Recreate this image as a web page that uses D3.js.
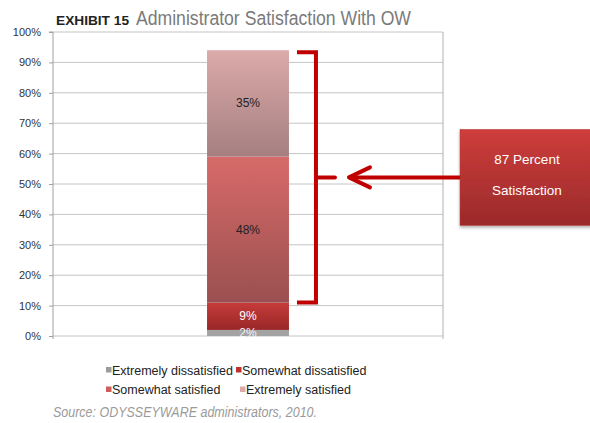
<!DOCTYPE html>
<html>
<head>
<meta charset="utf-8">
<script src="https://cdn.jsdelivr.net/npm/d3@7"></script>
<style>
  body { margin: 0; background: #fff; }
  svg { display: block; font-family: "Liberation Sans", Arial, sans-serif; }
</style>
</head>
<body>
<div class="canvas"></div>
<script>
// data
const categories = ['Administrators'];
const series = ['Extremely dissatisfied', 'Somewhat dissatisfied', 'Somewhat satisfied', 'Extremely satisfied'];
const values = [0.02, 0.09, 0.48, 0.35];
const yTicks = [0, 0.1, 0.2, 0.3, 0.4, 0.5, 0.6, 0.7, 0.8, 0.9, 1];
const satisfiedTotal = 87;

// colours: [top, bottom] of each segment gradient, legend swatch, label colour
const grads = [['#a3a3a3', '#a3a3a3'], ['#c53c3a', '#982727'], ['#d66b69', '#9b4f50'], ['#dcaaaa', '#a57f80']];
const swatch = ['#9c9c9c', '#c0302c', '#cf5e5d', '#dcaaaa'];
const labelColor = ['#f4f4f4', '#ffffff', '#222222', '#222222'];

const width = 590, height = 423;
const plot = { left: 53, right: 443, top: 32, bottom: 336 };

const svg = d3.select('.canvas').append('svg').attr('width', width).attr('height', height);

const defs = svg.append('defs');
grads.forEach((g, i) => {
  const lg = defs.append('linearGradient').attr('id', 'seg' + i).attr('x1', 0).attr('x2', 0).attr('y1', 0).attr('y2', 1);
  lg.append('stop').attr('offset', '0%').attr('stop-color', g[0]);
  lg.append('stop').attr('offset', '100%').attr('stop-color', g[1]);
});
const boxGrad = defs.append('linearGradient').attr('id', 'boxGrad').attr('x1', 0).attr('x2', 0).attr('y1', 0).attr('y2', 1);
boxGrad.append('stop').attr('offset', '0%').attr('stop-color', '#ce3d3b');
boxGrad.append('stop').attr('offset', '100%').attr('stop-color', '#9a2a2a');
const shadow = defs.append('filter').attr('id', 'shadow').attr('x', '-10%').attr('y', '-10%').attr('width', '130%').attr('height', '130%');
shadow.append('feDropShadow').attr('dx', 0).attr('dy', 2).attr('stdDeviation', 1.5).attr('flood-color', '#000').attr('flood-opacity', 0.3);

// scales
const x = d3.scaleBand().domain(categories).range([plot.left, plot.right]).paddingInner(0).paddingOuter(1.88);
const y = d3.scaleLinear().domain([0, 1]).range([plot.bottom, plot.top]);

// gridlines
svg.append('g')
  .selectAll('line')
  .data(yTicks)
  .join('line')
  .attr('x1', plot.left)
  .attr('x2', plot.right)
  .attr('y1', d => y(d))
  .attr('y2', d => y(d))
  .attr('stroke', '#c4c4c4')
  .attr('stroke-width', 1);

// right border of plot
svg.append('line')
  .attr('x1', plot.right).attr('x2', plot.right)
  .attr('y1', plot.top).attr('y2', plot.bottom + 3)
  .attr('stroke', '#b0b0b0');

// y axis
const yAxis = svg.append('g')
  .attr('transform', `translate(${plot.left},0)`)
  .call(d3.axisLeft(y).tickValues(yTicks).tickFormat(d3.format('.0%')).tickSize(4).tickPadding(8));
yAxis.select('.domain').attr('stroke', '#a0a0a0').attr('d', `M-4,${plot.top}H0V${plot.bottom + 3}`);
yAxis.selectAll('.tick line').attr('stroke', '#a0a0a0');
yAxis.selectAll('.tick text').attr('font-size', 11).attr('fill', '#333').attr('font-family', '"Liberation Sans", Arial, sans-serif');

// stacked bar
const stacked = [];
let acc = 0;
values.forEach((v, i) => { stacked.push({ i, y0: acc, y1: acc + v, v }); acc += v; });

const bar = svg.append('g');
bar.selectAll('rect')
  .data(stacked)
  .join('rect')
  .attr('x', x(categories[0]))
  .attr('width', x.bandwidth())
  .attr('y', d => y(d.y1))
  .attr('height', d => y(d.y0) - y(d.y1))
  .attr('fill', d => `url(#seg${d.i})`);

bar.selectAll('text')
  .data(stacked)
  .join('text')
  .attr('x', x(categories[0]) + x.bandwidth() / 2)
  .attr('y', d => (y(d.y0) + y(d.y1)) / 2 + 4)
  .attr('text-anchor', 'middle')
  .attr('font-size', 12)
  .attr('fill', d => labelColor[d.i])
  .text(d => Math.round(d.v * 100) + '%');

// bracket around satisfied segments
const red = '#c00000';
const barRight = x(categories[0]) + x.bandwidth();
const bTop = y(acc) + 2;
const bBot = y(values[0] + values[1]);
const bMid = (bTop + bBot) / 2;
const bx = barRight + 27;
svg.append('path')
  .attr('d', `M${barRight + 8},${bTop}H${bx}V${bBot}H${barRight + 8}`)
  .attr('fill', 'none').attr('stroke', red).attr('stroke-width', 4);
svg.append('line')
  .attr('x1', bx).attr('x2', bx + 19).attr('y1', bMid).attr('y2', bMid)
  .attr('stroke', red).attr('stroke-width', 4).attr('stroke-linecap', 'round');

// callout box
const boxX = 460, boxH = 96;
svg.append('rect')
  .attr('x', boxX).attr('y', bMid - boxH / 2)
  .attr('width', 150).attr('height', boxH)
  .attr('fill', 'url(#boxGrad)')
  .attr('stroke', '#b83a38').attr('stroke-width', 0.5)
  .attr('filter', 'url(#shadow)');

// arrow from box to bracket
const tip = bx + 33;
svg.append('line')
  .attr('x1', boxX).attr('x2', tip + 2).attr('y1', bMid).attr('y2', bMid)
  .attr('stroke', red).attr('stroke-width', 4);
svg.append('path')
  .attr('d', `M${tip + 21},${bMid - 10}L${tip},${bMid}L${tip + 21},${bMid + 10}`)
  .attr('fill', 'none').attr('stroke', red).attr('stroke-width', 4)
  .attr('stroke-linecap', 'round').attr('stroke-linejoin', 'round');

svg.append('text')
  .attr('x', 527).attr('y', bMid - 13)
  .attr('text-anchor', 'middle').attr('font-size', 13.5).attr('fill', '#fff')
  .text(satisfiedTotal + ' Percent');
svg.append('text')
  .attr('x', 527).attr('y', bMid + 18)
  .attr('text-anchor', 'middle').attr('font-size', 13.5).attr('fill', '#fff')
  .text('Satisfaction');

// title (condensed face squeezed with textLength)
svg.append('text')
  .attr('x', 56).attr('y', 25)
  .attr('font-weight', 'bold').attr('font-size', 13).attr('fill', '#222')
  .attr('textLength', 73).attr('lengthAdjust', 'spacingAndGlyphs')
  .text('EXHIBIT 15');
svg.append('text')
  .attr('x', 136).attr('y', 25)
  .attr('font-size', 20).attr('fill', '#7a7a7a')
  .attr('textLength', 275).attr('lengthAdjust', 'spacingAndGlyphs')
  .text('Administrator Satisfaction With OW');

// legend
const cols = [106, 236];
const legend = svg.append('g')
  .selectAll('g')
  .data(series)
  .join('g')
  .attr('transform', (d, i) => `translate(${cols[i % 2] + (i === 3 ? 4 : 0)},${371 + Math.floor(i / 2) * 19.5})`);
legend.append('rect').attr('x', 0).attr('y', -4).attr('width', 5.5).attr('height', 5.5).attr('fill', (d, i) => swatch[i]);
legend.append('text').attr('x', 6).attr('y', 3.5).attr('font-size', 12.5).attr('fill', '#222').text(d => d);

// source
svg.append('text')
  .attr('x', 53).attr('y', 417)
  .attr('font-style', 'italic').attr('font-size', 14).attr('fill', '#9a9a9a')
  .attr('textLength', 264).attr('lengthAdjust', 'spacingAndGlyphs')
  .text('Source: ODYSSEYWARE administrators, 2010.');
</script>
</body>
</html>
